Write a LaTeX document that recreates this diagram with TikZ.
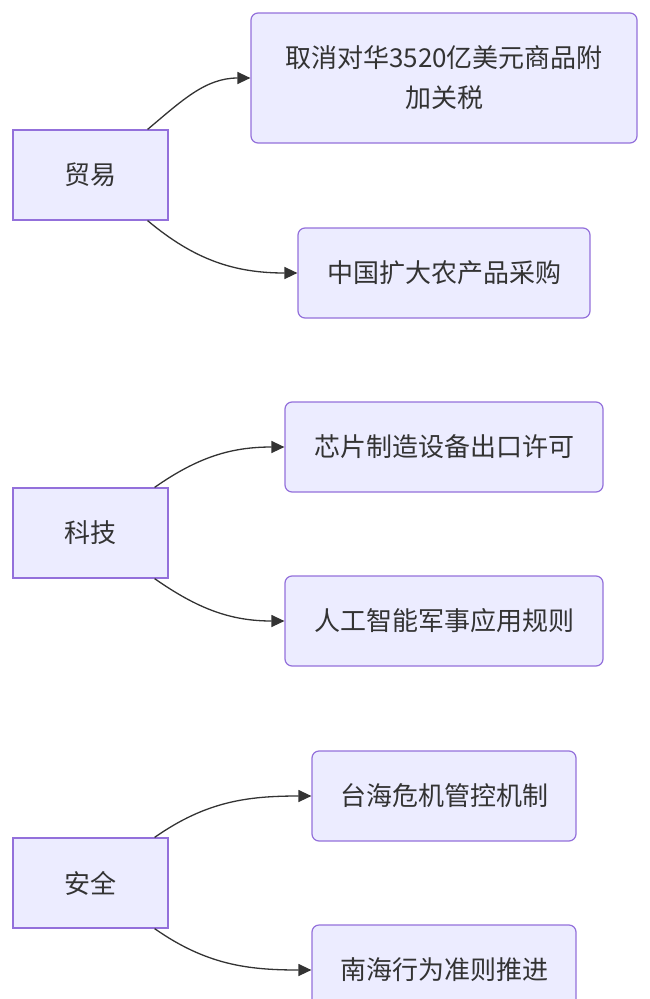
\documentclass[tikz,border=0pt]{standalone}
\usepackage{fontspec}
\setmainfont{Noto Sans CJK SC}
\usetikzlibrary{arrows.meta}
\definecolor{boxfill}{HTML}{ECECFF}
\definecolor{boxline}{HTML}{9370DB}
\definecolor{linkcol}{HTML}{333333}
\begin{document}
\begin{tikzpicture}[x=1pt,y=-1pt,
	topic/.style={draw=boxline, fill=boxfill, line width=1.2pt, minimum width=155pt, minimum height=90pt, font=\fontsize{26}{40}\selectfont, text=linkcol},
	item/.style={draw=boxline, fill=boxfill, line width=1.2pt, rounded corners=7pt, minimum height=90pt, font=\fontsize{26}{40}\selectfont, text=linkcol, align=center},
	link/.style={draw=linkcol, line width=1.3pt, -{Triangle[length=13pt,width=12pt]}}]
	
	%Background
	\useasboundingbox (0,0) rectangle (650,999);
	\clip (0,0) rectangle (650,999);

	%Topics
	\node[topic] (trade) at (90.5,175) {贸易};
	\node[topic] (tech) at (90.5,533) {科技};
	\node[topic] (security) at (90.5,883) {安全};

	%Items
	\node[item, minimum width=386pt, minimum height=130pt] (tariff) at (444,78) {取消对华3520亿美元商品附\\加关税};
	\node[item, minimum width=292pt] (farm) at (444,273) {中国扩大农产品采购};
	\node[item, minimum width=318pt] (chip) at (444,447) {芯片制造设备出口许可};
	\node[item, minimum width=318pt] (ai) at (444,621) {人工智能军事应用规则};
	\node[item, minimum width=264pt] (strait) at (444,796) {台海危机管控机制};
	\node[item, minimum width=264pt] (sea) at (444,970) {南海行为准则推进};

	%Links
	\draw[link] ([xshift=-21pt]trade.north east) to[out=40,in=180] (tariff.west);
	\draw[link] ([xshift=-21pt]trade.south east) to[out=-40,in=180] (farm.west);
	\draw[link] ([xshift=-14pt]tech.north east) to[out=35,in=180] (chip.west);
	\draw[link] ([xshift=-14pt]tech.south east) to[out=-35,in=180] (ai.west);
	\draw[link] ([xshift=-14pt]security.north east) to[out=35,in=180] (strait.west);
	\draw[link] ([xshift=-14pt]security.south east) to[out=-35,in=180] (sea.west);
	
\end{tikzpicture}
\end{document}
